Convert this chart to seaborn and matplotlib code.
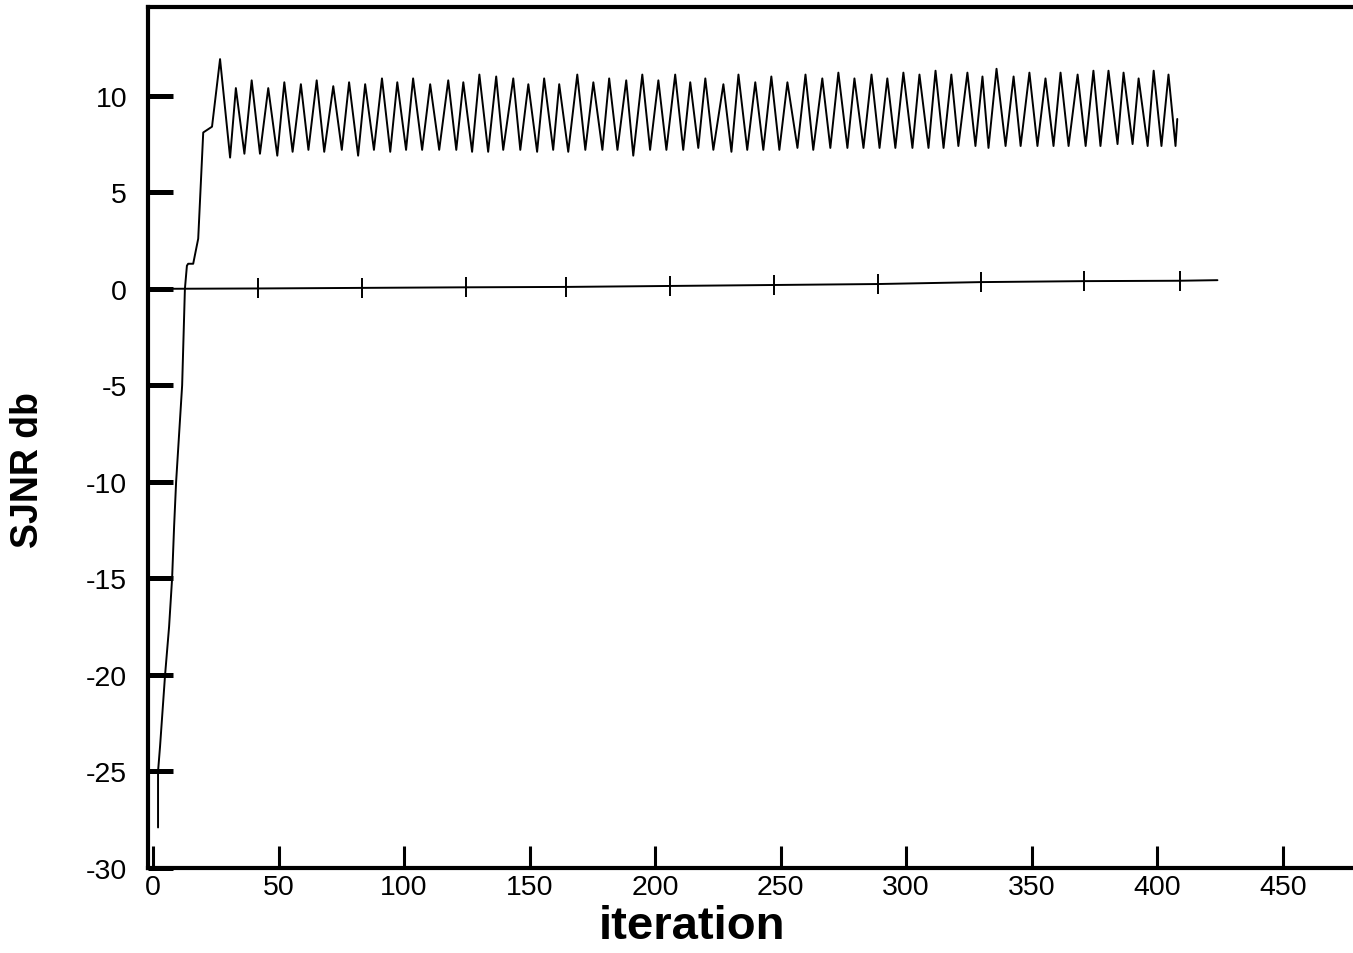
import numpy as np
import pandas as pd
import matplotlib
matplotlib.use("Agg")
import matplotlib.pyplot as plt
import seaborn as sns

# SJNR curve: initial rise, then alternating peaks / troughs
sjnr_iter = [2, 2, 2.8, 4.8, 6.4, 7.6, 8.4, 9.2, 11.6, 12.7, 13.5, 14, 16, 18, 20, 23.5, 26.7, 30.7,
             33.0, 36.4, 39.3, 42.6, 45.9, 49.5, 52.3, 55.6, 58.9, 61.9, 65.2, 68.2, 71.8, 75.2,
             78.1, 81.7, 84.5, 88.0, 91.2, 94.5, 97.3, 100.8, 103.6, 107.2, 110.4, 114.0, 117.6,
             120.8, 123.6, 127.1, 130.0, 133.5, 136.7, 139.5, 143.5, 146.3, 149.5, 153.0, 155.8,
             159.4, 161.8, 165.4, 169.0, 172.2, 175.4, 179.0, 181.7, 185.0, 188.5, 191.3, 194.9,
             198.0, 201.3, 204.5, 208.0, 211.2, 214.0, 217.2, 220.0, 223.2, 227.2, 230.4, 233.2,
             236.7, 239.9, 243.1, 246.3, 249.5, 252.7, 256.7, 259.9, 263.0, 266.6, 269.8, 273.0,
             276.6, 279.4, 283.0, 286.2, 289.4, 292.5, 295.7, 298.9, 302.5, 305.3, 308.9, 311.7,
             314.9, 318.0, 320.8, 324.4, 327.6, 330.4, 332.8, 336.0, 339.6, 342.8, 345.6, 349.1,
             352.3, 355.5, 358.7, 361.5, 364.7, 368.3, 371.5, 374.6, 377.4, 380.6, 384.2, 386.6,
             390.2, 392.6, 396.2, 398.6, 401.7, 404.5, 407.3, 408.0]
sjnr_db = [-27.9, -25.0, -23.7, -20.0, -17.5, -15.0, -12.3, -10.0, -5.0, 0.0, 1.2, 1.3, 1.3, 2.6, 8.1, 8.4, 11.9, 6.8,
           10.4, 7.0, 10.8, 7.0, 10.4, 6.9, 10.7, 7.1, 10.6, 7.2, 10.8, 7.1, 10.5, 7.2,
           10.7, 6.9, 10.6, 7.2, 10.9, 7.1, 10.7, 7.2, 10.9, 7.2, 10.6, 7.2, 10.8,
           7.2, 10.7, 7.1, 11.1, 7.1, 11.0, 7.2, 10.9, 7.2, 10.6, 7.1, 10.9,
           7.2, 10.6, 7.1, 11.1, 7.2, 10.7, 7.2, 10.9, 7.2, 10.8, 6.9, 11.1,
           7.2, 10.8, 7.2, 11.1, 7.2, 10.7, 7.3, 10.9, 7.2, 10.6, 7.1, 11.1,
           7.2, 10.7, 7.2, 11.0, 7.2, 10.7, 7.3, 11.1, 7.2, 10.9, 7.3, 11.2,
           7.3, 10.9, 7.3, 11.1, 7.3, 10.9, 7.3, 11.2, 7.3, 11.1, 7.3, 11.3,
           7.3, 11.1, 7.4, 11.2, 7.4, 11.0, 7.3, 11.4, 7.4, 11.0, 7.4, 11.2,
           7.4, 10.9, 7.4, 11.2, 7.4, 11.1, 7.4, 11.3, 7.4, 11.3, 7.5, 11.2,
           7.5, 10.9, 7.4, 11.3, 7.4, 11.1, 7.4, 8.8]

# reference (near 0 dB) curve with its tick marks
ref_iter = [-1, 41.8, 83.3, 124.7, 164.5, 206, 247.4, 288.8, 330, 371, 409, 424]
ref_db = [0.0, 0.02, 0.05, 0.08, 0.1, 0.15, 0.2, 0.25, 0.35, 0.4, 0.42, 0.45]

xticks = [0, 50, 100, 150, 200, 250, 300, 350, 400, 450]
yticks = [-30, -25, -20, -15, -10, -5, 0, 5, 10]

sns.set_style("white")
plt.rcParams['font.family'] = ['Liberation Sans', 'DejaVu Sans']
plt.rcParams['text.color'] = 'black'
plt.rcParams['axes.labelcolor'] = 'black'
plt.rcParams['xtick.color'] = 'black'
plt.rcParams['ytick.color'] = 'black'

fig = plt.figure(figsize=(13.53, 9.54), dpi=100)
ax = fig.add_axes([148 / 1353, 1 - 869 / 954, 1 - 148 / 1353, (869 - 8) / 954])

df1 = pd.DataFrame({"iteration": sjnr_iter, "SJNR": sjnr_db})
df2 = pd.DataFrame({"iteration": ref_iter, "SJNR": ref_db})

sns.lineplot(data=df1, x="iteration", y="SJNR", sort=False, estimator=None,
             color="black", lw=1.4, ax=ax)
sns.lineplot(data=df2, x="iteration", y="SJNR", sort=False, estimator=None,
             color="black", lw=1.4, marker="|", markersize=14, markeredgewidth=1.4,
             markeredgecolor="black", markevery=list(range(1, 11)), ax=ax)

ax.set_xlim(-2, 478)
ax.set_ylim(-30, 14.6)
ax.set_xticks(xticks)
ax.set_yticks(yticks)
ax.set_xticklabels([str(t) for t in xticks], fontsize=20.5)
ax.set_yticklabels([str(t) for t in yticks], fontsize=20.5)
ax.tick_params(axis="y", left=True, direction="in", length=18, width=3.6, pad=15)
ax.tick_params(axis="x", bottom=True, direction="in", length=16, width=2.2, pad=4)

for side in ["left", "bottom", "top"]:
    ax.spines[side].set_linewidth(3)
    ax.spines[side].set_color("black")
ax.spines["right"].set_visible(False)

ax.set_xlabel("iteration", fontsize=34, fontweight="bold")
ax.xaxis.set_label_coords((692 - 148) / 1205, -0.042)
ax.set_ylabel("SJNR db", fontsize=27, fontweight="bold")
ax.yaxis.set_label_coords((46 - 148) / 1205, 0.463)

fig.savefig("out.png", dpi=100)
